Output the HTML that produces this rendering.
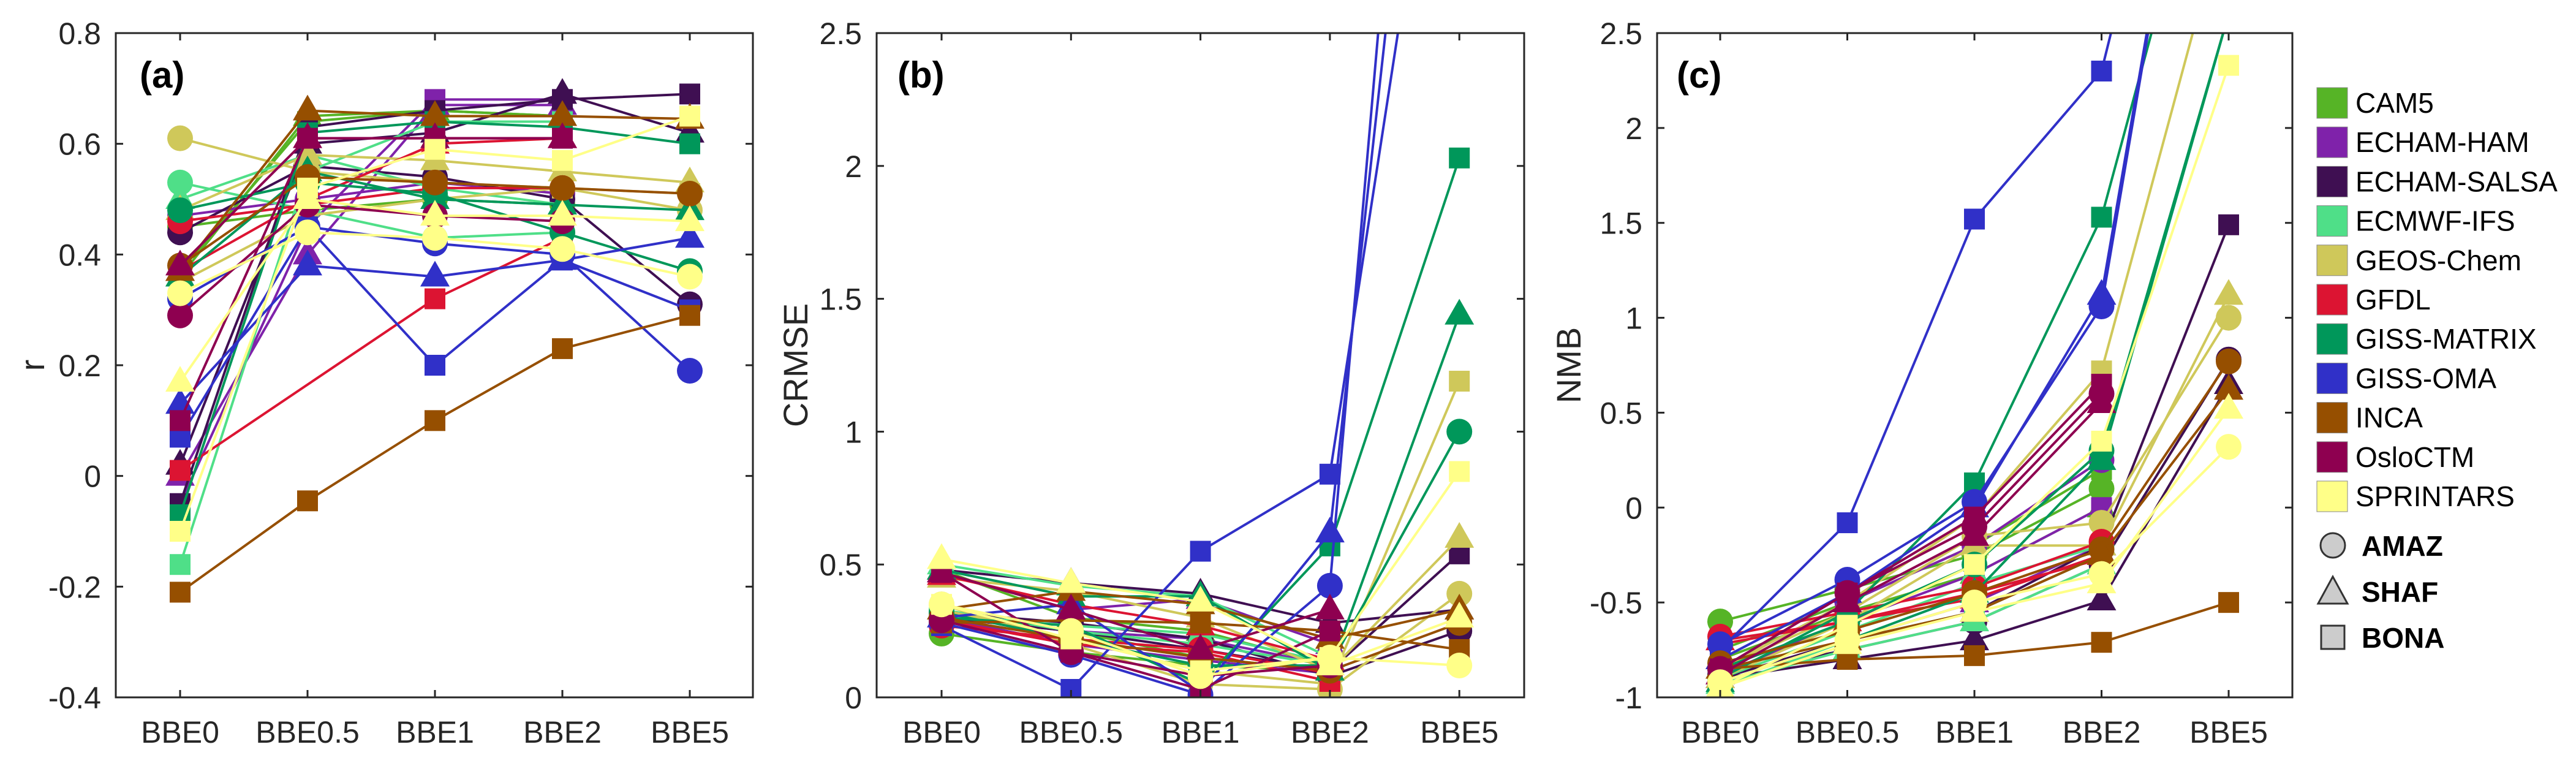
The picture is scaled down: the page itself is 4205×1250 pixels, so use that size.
<!DOCTYPE html>
<html><head><meta charset="utf-8">
<style>
html,body{margin:0;padding:0;background:#fff;}
svg{display:block;font-family:"Liberation Sans",Arial,sans-serif;}
</style></head>
<body>
<svg id="fig" width="4205" height="1250" viewBox="0 0 4205 1250" xmlns="http://www.w3.org/2000/svg"></svg>
<script>
const categories = ["BBE0","BBE0.5","BBE1","BBE2","BBE5"];
const models = ["CAM5","ECHAM-HAM","ECHAM-SALSA","ECMWF-IFS","GEOS-Chem","GFDL","GISS-MATRIX","GISS-OMA","INCA","OsloCTM","SPRINTARS"];
const modelColors = ["#56b426","#7f22aa","#3f0f52","#4fdf88","#cfc85a","#dc1432","#00975a","#3030c8","#964f00","#8e0050","#ffff88"];
const regions = ["AMAZ","SHAF","BONA"];

// panel (a) r
const rTicks = ["-0.4","-0.2","0","0.2","0.4","0.6","0.8"];
const rAMAZ = [[0.45,0.48,0.50,0.49,null],[0.47,0.50,0.53,0.51,null],[0.44,0.56,0.54,0.50,0.31],[0.53,0.48,0.43,0.44,null],[0.61,0.55,0.53,0.52,0.48],[0.46,0.49,0.52,0.52,null],[0.48,0.53,0.51,0.44,0.37],[0.32,0.45,0.42,0.40,0.19],[0.38,0.54,0.53,0.52,0.51],[0.29,0.49,0.47,0.46,null],[0.33,0.44,0.43,0.41,0.36]];
const rSHAF = [[0.36,0.65,0.66,0.65,null],[0.00,0.40,0.67,0.67,null],[0.02,0.60,0.62,0.69,0.62],[0.50,0.58,0.52,0.49,null],[0.48,0.58,0.57,0.55,0.53],[0.37,0.50,0.60,0.61,null],[0.36,0.55,0.50,0.49,0.48],[0.13,0.38,0.36,0.39,0.43],[0.37,0.66,0.65,0.65,0.645],[0.38,0.61,0.61,0.61,null],[0.17,0.50,0.47,0.47,0.46]];
const rBONA = [[0.37,0.64,0.66,0.65,null],[-0.05,0.45,0.68,0.68,null],[-0.05,0.63,0.66,0.68,0.69],[-0.16,0.55,0.64,0.64,null],[0.35,0.47,0.50,0.52,0.51],[0.01,null,0.32,0.43,null],[-0.07,0.62,0.64,0.63,0.60],[0.07,0.45,0.20,0.39,0.30],[-0.21,-0.045,0.10,0.23,0.29],[0.10,0.61,0.61,0.61,null],[-0.10,0.52,0.59,0.57,0.65]];

// panel (b) CRMSE
const cTicks = ["0","0.5","1","1.5","2","2.5"];
const cAMAZ = [[0.24,0.17,0.12,0.10,null],[0.30,0.20,0.14,0.09,null],[0.32,0.28,0.22,0.08,0.25],[0.33,0.25,0.20,0.12,null],[0.35,0.20,0.05,0.03,0.39],[0.27,0.22,0.18,0.09,null],[0.32,0.22,0.12,0.12,1.00],[0.28,0.16,0.01,0.42,6.0],[0.30,0.22,0.15,0.10,0.28],[0.29,0.17,0.08,0.12,null],[0.35,0.25,0.08,0.15,0.12]];
const cSHAF = [[0.48,0.30,0.25,0.12,null],[0.47,0.33,0.37,0.20,null],[0.48,0.43,0.39,0.28,0.33],[0.50,0.42,0.38,0.15,null],[0.45,0.40,0.30,0.10,0.60],[0.46,0.35,0.27,0.14,null],[0.48,0.38,0.38,0.10,1.44],[0.30,0.35,0.02,0.62,5.0],[0.33,0.40,0.35,0.22,0.33],[0.47,0.33,0.18,0.33,null],[0.52,0.43,0.36,0.12,0.30]];
const cBONA = [[0.32,0.25,0.15,0.10,null],[0.30,0.25,0.22,0.12,null],[0.30,0.25,0.18,0.10,0.54],[0.31,0.27,0.24,0.13,null],[0.33,0.22,0.10,0.05,1.19],[0.29,0.20,0.17,0.06,null],[0.30,0.27,0.05,0.57,2.03],[0.27,0.03,0.55,0.84,4.0],[0.28,0.29,0.28,0.25,0.18],[0.47,0.17,0.03,0.25,null],[0.35,0.22,0.10,0.15,0.85]];

// panel (c) NMB
const nTicks = ["-1","-0.5","0","0.5","1","1.5","2","2.5"];
const nAMAZ = [[-0.60,-0.43,-0.25,0.10,null],[-0.85,-0.50,-0.20,0.25,null],[-0.88,-0.75,-0.60,-0.30,0.78],[-0.90,-0.65,-0.40,-0.20,null],[-0.85,-0.55,-0.15,-0.08,1.00],[-0.68,-0.55,-0.42,-0.18,null],[-0.85,-0.60,-0.30,0.30,2.60],[-0.72,-0.38,0.03,1.06,5.0],[-0.82,-0.65,-0.45,-0.22,0.77],[-0.85,-0.45,-0.10,0.60,null],[-0.92,-0.70,-0.50,-0.35,0.32]];
const nSHAF = [[-0.80,-0.55,-0.35,0.00,null],[-0.90,-0.70,-0.50,-0.20,null],[-0.90,-0.80,-0.70,-0.49,0.65],[-0.93,-0.75,-0.60,-0.30,null],[-0.90,-0.60,-0.20,-0.20,1.12],[-0.70,-0.60,-0.48,-0.25,null],[-0.92,-0.70,-0.45,0.25,2.60],[-0.80,-0.45,0.00,1.12,5.0],[-0.85,-0.70,-0.55,-0.25,0.62],[-0.88,-0.50,-0.15,0.55,null],[-0.95,-0.72,-0.55,-0.40,0.52]];
const nBONA = [[-0.75,-0.50,-0.20,0.20,null],[-0.88,-0.60,-0.35,0.00,null],[-0.90,-0.70,-0.55,-0.20,1.49],[-0.95,-0.70,-0.55,-0.25,null],[-0.85,-0.50,-0.05,0.72,3.20],[-0.72,-0.60,-0.45,-0.27,null],[-0.90,-0.55,0.13,1.53,4.0],[-0.75,-0.08,1.52,2.30,5.0],[-0.85,-0.80,-0.78,-0.71,-0.50],[-0.85,-0.45,-0.05,0.65,null],[-0.95,-0.62,-0.30,0.35,2.33]];

const NS="http://www.w3.org/2000/svg";
const svg=document.getElementById('fig');
function mk(tag,attrs,parent){const e=document.createElementNS(NS,tag);for(const k in attrs)e.setAttribute(k,attrs[k]);(parent||svg).appendChild(e);return e;}

const TOP=54,BOT=1138;
const panels=[
 {id:"a",left:189,right:1229,x0:294,dx:208,min:-0.4,max:0.8,ticks:rTicks,data:[rAMAZ,rSHAF,rBONA],title:"r",titleX:54,label:"(a)",labelX:228},
 {id:"b",left:1431,right:2488,x0:1537,dx:211.3,min:0,max:2.5,ticks:cTicks,data:[cAMAZ,cSHAF,cBONA],title:"CRMSE",titleX:1300,label:"(b)",labelX:1465},
 {id:"c",left:2705,right:3742,x0:2808,dx:207.5,min:-1,max:2.5,ticks:nTicks,data:[nAMAZ,nSHAF,nBONA],title:"NMB",titleX:2562,label:"(c)",labelX:2737}
];

function marker(g,shape,x,y,color){
  let e;
  if(shape===0){e=mk('circle',{cx:x,cy:y,r:21,fill:color},g);}
  else if(shape===1){e=mk('polygon',{points:`${x},${y-26} ${x+24},${y+16} ${x-24},${y+16}`,fill:color},g);}
  else {e=mk('rect',{x:x-17,y:y-17,width:34,height:34,fill:color},g);}
  return e;
}

panels.forEach(p=>{
  const g=mk('g',{});
  
  
  const xs=i=>p.x0+i*p.dx;
  const ys=v=>BOT-(v-p.min)/(p.max-p.min)*(BOT-TOP);
  const clip=mk('clipPath',{id:'clip'+p.id},g);
  mk('rect',{x:p.left,y:TOP,width:p.right-p.left,height:BOT-TOP},clip);
  const plot=mk('g',{'clip-path':'url(#clip'+p.id+')'},g);
  
  
  models.forEach((m,mi)=>{
    p.data.forEach((arr,ri)=>{
      const vals=arr[mi];
      const sg=mk('g',{},plot);
      
      
      let pts=[];
      vals.forEach((v,i)=>{if(v!==null)pts.push(xs(i)+','+ys(v));});
      const pl=mk('polyline',{points:pts.join(' '),fill:'none',stroke:modelColors[mi],'stroke-width':4},sg);
      
      
      vals.forEach((v,i)=>{if(v===null)return;const mkr=marker(sg,ri,xs(i),ys(v),modelColors[mi]);
        
        });
    });
  });
  const box=mk('rect',{x:p.left,y:TOP,width:p.right-p.left,height:BOT-TOP,fill:'none',stroke:'#262626','stroke-width':3},g);
  
  
  p.ticks.forEach(t=>{
    const y=ys(parseFloat(t));
    mk('line',{x1:p.left,x2:p.left+12,y1:y,y2:y,stroke:'#262626','stroke-width':3},g);
    mk('line',{x1:p.right,x2:p.right-12,y1:y,y2:y,stroke:'#262626','stroke-width':3},g);
    const tx=mk('text',{x:p.left-24,y:y+18,'font-size':50,'text-anchor':'end',fill:'#262626'},g);
    tx.textContent=t;
    
    
  });
  categories.forEach((c,i)=>{
    const x=xs(i);
    mk('line',{x1:x,x2:x,y1:BOT,y2:BOT-12,stroke:'#262626','stroke-width':3},g);
    mk('line',{x1:x,x2:x,y1:TOP,y2:TOP+12,stroke:'#262626','stroke-width':3},g);
    const tx=mk('text',{x:x,y:1212,'font-size':50,'text-anchor':'middle',fill:'#262626'},g);
    tx.textContent=c;
    
    
  });
  const tt=mk('text',{x:p.titleX,y:(TOP+BOT)/2,'font-size':56,'text-anchor':'middle',fill:'#262626',transform:`rotate(-90 ${p.titleX} ${(TOP+BOT)/2})`,dy:18},g);
  tt.textContent=p.title;
  
  
  const lb=mk('text',{x:p.labelX,y:143,'font-size':60,'font-weight':'bold',fill:'#000'},g);
  lb.textContent=p.label;
  
  
});

const lg=mk('g',{});


models.forEach((m,mi)=>{
  const y=167+mi*64.2;
  const e=mk('g',{},lg);
  
  
  mk('rect',{x:3782,y:y-24,width:50,height:50,fill:modelColors[mi],stroke:'#888','stroke-width':1},e);
  const t=mk('text',{x:3845,y:y+17,'font-size':46,fill:'#000'},e);
  t.textContent=m;
});
[["AMAZ",0,890],["SHAF",1,965],["BONA",2,1040]].forEach(([n,s,y])=>{
  const e=mk('g',{},lg);
  
  
  const x=3808;
  if(s===0)mk('circle',{cx:x,cy:y,r:20,fill:'#cccccc',stroke:'#333','stroke-width':3},e);
  else if(s===1)mk('polygon',{points:`${x},${y-24} ${x+24},${y+20} ${x-24},${y+20}`,fill:'#cccccc',stroke:'#333','stroke-width':3},e);
  else mk('rect',{x:x-19,y:y-19,width:38,height:38,fill:'#cccccc',stroke:'#333','stroke-width':3},e);
  const t=mk('text',{x:3855,y:y+17,'font-size':46,'font-weight':'bold',fill:'#000'},e);
  t.textContent=n;
});
</script>
</body></html>
